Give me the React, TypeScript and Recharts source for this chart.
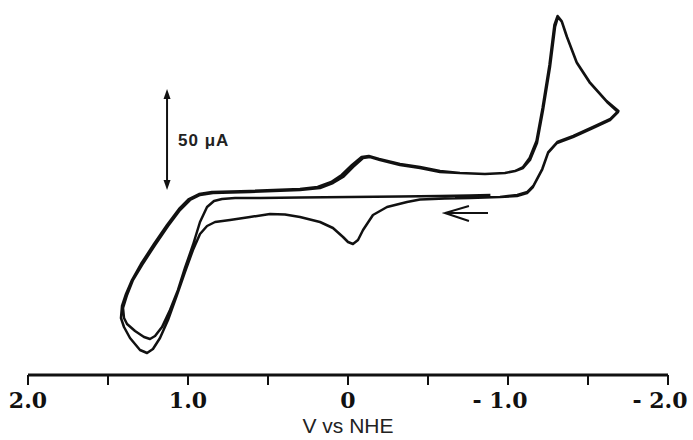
import { LineChart, Line, XAxis, YAxis, ReferenceLine } from 'recharts';

// potential (V vs NHE), current (µA, cathodic up)
const startScan: [number, number][] = [
  [-0.89, -0.5], [-0.76, -0.75], [-0.575, -1], [-0.325, -1.25], [-0.0125, -1.5], [0.3, -1.75],
  [0.55, -2], [0.706, -2], [0.7875, -2.5], [0.8375, -3.5], [0.881, -6.5], [0.925, -14],
  [0.969, -25.5], [1.019, -37], [1.0625, -48], [1.1125, -58], [1.1625, -66.5], [1.206, -71],
  [1.2375, -72.5], [1.275, -71.5], [1.331, -68.5], [1.381, -65], [1.4, -62],
];

const cathodicScan1: [number, number][] = [
  [1.406, -57], [1.381, -50.5], [1.344, -43], [1.2875, -35.5], [1.206, -25.5], [1.125, -16],
  [1.05, -8], [0.9875, -3], [0.925, -0.5], [0.844, 0.5], [0.6125, 1], [0.3, 2], [0.175, 3],
  [0.094, 5.5], [0.031, 8.5], [-0.031, 13.5], [-0.094, 18], [-0.1375, 18.5], [-0.2, 17],
  [-0.325, 14.5], [-0.45, 13], [-0.575, 11], [-0.7, 10.5], [-0.856, 10], [-0.981, 10.5],
  [-1.044, 11.5], [-1.094, 13], [-1.1375, 17], [-1.181, 25.5], [-1.219, 42], [-1.2625, 63.5],
  [-1.294, 83.5], [-1.3125, 88.5], [-1.3375, 86], [-1.369, 78.5], [-1.431, 65.5],
  [-1.5125, 55.5], [-1.619, 46], [-1.6875, 41],
];

const returnScan1: [number, number][] = [
  [-1.6375, 37], [-1.53, 33], [-1.406, 28.5], [-1.306, 25.5], [-1.25, 20.5], [-1.2125, 12],
  [-1.156, 3.5], [-1.119, 0.5], [-1.056, -1], [-0.95, -1.5], [-0.7625, -2], [-0.606, -2.25],
  [-0.531, -2.5], [-0.45, -2.75], [-0.369, -4], [-0.244, -6.5], [-0.156, -10.5], [-0.094, -18],
  [-0.0625, -23], [-0.031, -25], [0, -24], [0.031, -21.5], [0.094, -17], [0.175, -14],
  [0.3, -11.5], [0.394, -10.25], [0.4875, -10], [0.6125, -11.5], [0.7375, -13], [0.831, -14],
  [0.881, -16], [0.925, -20], [0.969, -28], [1.019, -39], [1.069, -50.5], [1.125, -63],
  [1.175, -72], [1.219, -77.5], [1.256, -79.5], [1.3, -78], [1.3625, -72], [1.4, -66.5],
  [1.419, -62],
];

const cathodicScan2: [number, number][] = [
  [1.4125, -56], [1.3875, -50], [1.35, -43], [1.294, -35], [1.2125, -25], [1.131, -15.5],
  [1.056, -7.5], [0.994, -2.5], [0.931, 0], [0.85, 1], [0.6125, 1.5], [0.3, 2.5], [0.19, 3.5],
  [0.105, 6], [0.04, 9.5], [-0.025, 14.5], [-0.085, 18.5], [-0.13, 19], [-0.195, 17.5],
  [-0.325, 15], [-0.45, 13.5], [-0.575, 11.5], [-0.7, 10.5], [-0.856, 10], [-0.981, 10.5],
  [-1.044, 11.5], [-1.094, 13.5], [-1.135, 18], [-1.178, 26.5], [-1.216, 43], [-1.259, 64.5],
  [-1.29, 84.5], [-1.31, 89], [-1.335, 86.5], [-1.366, 79], [-1.428, 66], [-1.51, 56],
  [-1.616, 46.5], [-1.69, 41.5],
];

const returnScan2: [number, number][] = [
  [-1.64, 37.5], [-1.532, 33.5], [-1.408, 29], [-1.308, 26], [-1.252, 21], [-1.214, 12.5],
  [-1.158, 4], [-1.121, 1], [-1.058, -0.5], [-0.95, -1.5], [-0.8, -1.75], [-0.669, -2],
];

const xTicks = [2, 1.5, 1, 0.5, 0, -0.5, -1, -1.5, -2];
const tickLabels: Record<string, string> = { '2': '2.0', '1': '1.0', '0': '0', '-1': '- 1.0', '-2': '- 2.0' };

const data = [...startScan, ...cathodicScan1, ...returnScan1, ...cathodicScan2, ...returnScan2]
  .map(([v, i]) => ({ v, i }));

const AxisTick = ({ x, y, payload }: any) => {
  const label = tickLabels[String(payload.value)];
  if (!label) return null;
  return (
    <text x={x + (payload.value < 0 ? -8 : 0)} y={y} dy={21} textAnchor="middle"
      fontFamily="DejaVu Serif" fontWeight="bold" fontSize={22} fill="#111">
      {label}
    </text>
  );
};

const ScaleBar = ({ x1, y1, x2, y2 }: any) => {
  const top = Math.min(y1, y2);
  const bot = Math.max(y1, y2);
  return (
    <g>
      <line x1={x1} y1={top + 6} x2={x2} y2={bot - 6} stroke="#111" strokeWidth={2} />
      <path d={`M${x1},${top} L${x1 - 3.5},${top + 10} L${x1 + 3.5},${top + 10} Z`} fill="#111" />
      <path d={`M${x1},${bot} L${x1 - 3.5},${bot - 10} L${x1 + 3.5},${bot - 10} Z`} fill="#111" />
      <text x={x1 + 11} y={(top + bot) / 2 + 6} fontFamily="Liberation Sans, Arial" fontWeight="bold"
        fontSize={17} letterSpacing={1} fill="#222">
        50 μA
      </text>
    </g>
  );
};

const ScanArrow = ({ x1, y1, x2 }: any) => {
  const head = Math.min(x1, x2);
  const tail = Math.max(x1, x2);
  return (
    <path d={`M${tail},${y1} L${head},${y1} M${head + 24},${y1 - 7} L${head},${y1} L${head + 24},${y1 + 8}`}
      stroke="#111" strokeWidth={2} fill="none" />
  );
};

export default function App() {
  return (
    <div style={{ position: 'absolute', left: 0, top: 0, background: '#fff' }}>
      <LineChart width={693} height={440} data={data} margin={{ top: 5, right: 25, bottom: 0, left: 28 }}>
        <XAxis dataKey="v" type="number" domain={[-2, 2]} reversed ticks={xTicks} interval={0}
          height={65} tickSize={10} tickMargin={2}
          axisLine={{ stroke: '#111', strokeWidth: 3 }} tickLine={{ stroke: '#111', strokeWidth: 2 }}
          tick={<AxisTick />}
          label={{ value: 'V vs NHE', position: 'insideBottom', offset: 7, fill: '#222', fontSize: 21,
            fontFamily: 'Liberation Sans, Arial' }} />
        <YAxis type="number" domain={[-90.5, 94.5]} hide />
        <ReferenceLine segment={[{ x: 1.131, y: 52.5 }, { x: 1.131, y: 2 }]} shape={<ScaleBar />} />
        <ReferenceLine segment={[{ x: -0.606, y: -9.5 }, { x: -0.875, y: -9.5 }]} shape={<ScanArrow />} />
        <Line dataKey="i" type="linear" stroke="#111" strokeWidth={2.5} dot={false}
          strokeLinejoin="round" isAnimationActive={false} />
      </LineChart>
    </div>
  );
}
